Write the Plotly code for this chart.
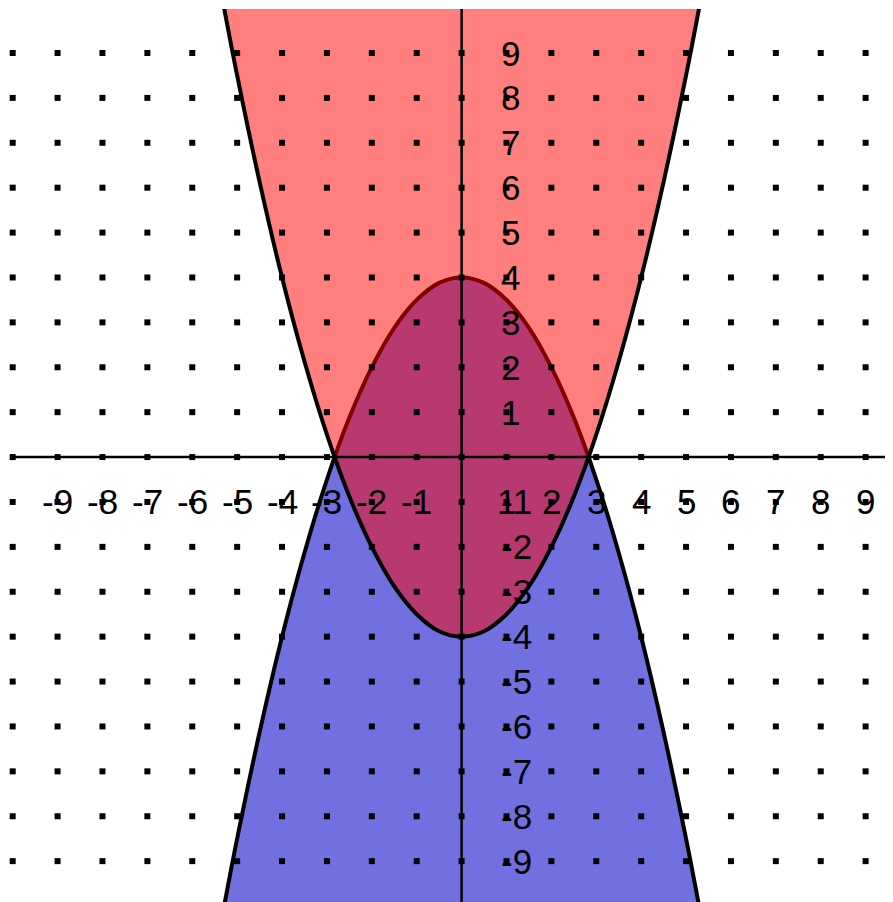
import plotly.graph_objects as go

# ─── Data ─────────────────────────────────────────────────────────────────────
# Boundary of the red region (opens upward, vertex at (0, -4))
CURVE_X = [-5.3, -5.0, -4.5, -4.0, -3.5, -3.0, -2.5, -2.0, -1.5, -1.0, -0.5, 0.0,
           0.5, 1.0, 1.5, 2.0, 2.5, 3.0, 3.5, 4.0, 4.5, 5.0, 5.3]
RED_EDGE_Y = [10.05, 8.5, 6.13, 4.0, 2.13, 0.5, -0.88, -2.0, -2.88, -3.5, -3.88, -4.0,
              -3.88, -3.5, -2.88, -2.0, -0.88, 0.5, 2.13, 4.0, 6.13, 8.5, 10.05]
# Boundary of the blue region (opens downward, vertex at (0, 4))
BLUE_EDGE_Y = [-10.05, -8.5, -6.13, -4.0, -2.13, -0.5, 0.88, 2.0, 2.88, 3.5, 3.88, 4.0,
               3.88, 3.5, 2.88, 2.0, 0.88, -0.5, -2.13, -4.0, -6.13, -8.5, -10.05]

X_TICKS = [-9, -8, -7, -6, -5, -4, -3, -2, -1, 1, 2, 3, 4, 5, 6, 7, 8, 9]
Y_TICKS = [9, 8, 7, 6, 5, 4, 3, 2, 1, -1, -2, -3, -4, -5, -6, -7, -8, -9]
X_RANGE = [-10.06, 9.61]
Y_RANGE = [-9.91, 9.98]

RED_FILL = "rgba(255,0,0,0.5)"
BLUE_FILL = "rgb(112,112,224)"
FONT = dict(family="Liberation Sans", size=35, color="black")

fig = go.Figure()

# blue region (below the downward curve)
bottom = Y_RANGE[0] - 1
fig.add_trace(go.Scatter(
    x=CURVE_X + [CURVE_X[-1], CURVE_X[0]],
    y=BLUE_EDGE_Y + [bottom, bottom],
    fill="toself", fillcolor=BLUE_FILL, mode="none",
    hoverinfo="skip", showlegend=False,
))
fig.add_trace(go.Scatter(
    x=CURVE_X, y=BLUE_EDGE_Y, mode="lines", line_shape="spline",
    line=dict(color="black", width=4), hoverinfo="skip", showlegend=False,
))

# red region (above the upward curve), drawn semi-transparent over the blue
top = Y_RANGE[1] + 1
fig.add_trace(go.Scatter(
    x=CURVE_X + [CURVE_X[-1], CURVE_X[0]],
    y=RED_EDGE_Y + [top, top],
    fill="toself", fillcolor=RED_FILL, mode="none",
    hoverinfo="skip", showlegend=False,
))
fig.add_trace(go.Scatter(
    x=CURVE_X, y=RED_EDGE_Y, mode="lines", line_shape="spline",
    line=dict(color="black", width=4), hoverinfo="skip", showlegend=False,
))

# dotted grid at integer points
gx, gy = [], []
for i in range(-10, 10):
    for j in range(-9, 11):
        gx.append(i)
        gy.append(j)
fig.add_trace(go.Scatter(
    x=gx, y=gy, mode="markers", cliponaxis=False,
    marker=dict(symbol="square", size=6, color="black", line_width=0),
    hoverinfo="skip", showlegend=False,
))

# axes
fig.add_shape(type="line", xref="paper", x0=0, x1=1, y0=0, y1=0,
              line=dict(color="black", width=2.5), layer="above")
fig.add_shape(type="line", yref="paper", y0=0, y1=1, x0=0, x1=0,
              line=dict(color="black", width=2.5), layer="above")

for v in X_TICKS:
    fig.add_annotation(x=v, y=-1, text=str(v), showarrow=False, font=FONT,
                       xanchor="center", yanchor="middle")
for v in Y_TICKS:
    fig.add_annotation(x=0.84, y=v, text=str(v), showarrow=False, font=FONT,
                       xanchor="left", yanchor="middle")

# the page body adds 8px on the left and top
fig.update_layout(
    width=885, height=894,
    margin=dict(l=2, r=0, t=1, b=0),
    paper_bgcolor="white", plot_bgcolor="white",
    xaxis=dict(range=X_RANGE, visible=False, fixedrange=True),
    yaxis=dict(range=Y_RANGE, visible=False, fixedrange=True),
    showlegend=False,
)

fig.write_html("out.html")
